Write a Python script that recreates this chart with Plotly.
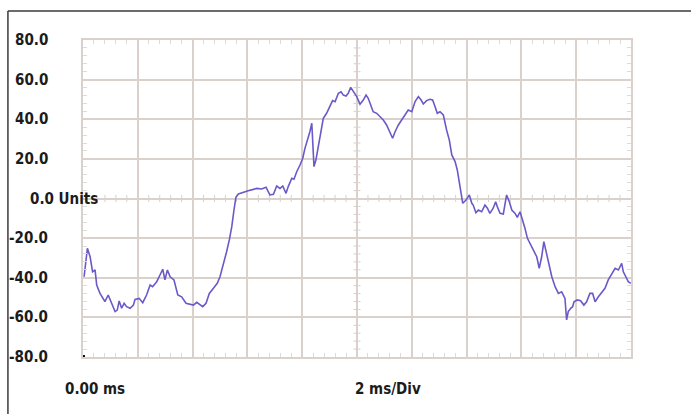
import plotly.graph_objects as go

# Sampled waveform: time in ms, amplitude in units
time_ms = [
    0.04, 0.16, 0.26, 0.35, 0.44, 0.50, 0.62, 0.80, 0.92, 1.05, 1.17, 1.25, 1.32, 1.41,
    1.50, 1.59, 1.72, 1.84, 1.90, 2.05, 2.18, 2.32, 2.45, 2.54, 2.69, 2.81, 2.91, 2.99,
    3.08, 3.18, 3.32, 3.46, 3.60, 3.76, 3.91, 4.03, 4.15, 4.27, 4.37, 4.49, 4.61, 4.76,
    4.90, 5.00, 5.12, 5.24, 5.34, 5.43, 5.51, 5.58, 5.67, 5.85, 6.03, 6.22, 6.34, 6.52,
    6.68, 6.82, 6.95, 7.07, 7.19, 7.29, 7.41, 7.49, 7.62, 7.70, 7.80, 7.92, 8.02, 8.10,
    8.22, 8.28, 8.35, 8.38, 8.43, 8.50, 8.59, 8.69, 8.77, 8.89, 9.01, 9.11, 9.20, 9.32,
    9.42, 9.50, 9.60, 9.68, 9.77, 9.86, 9.99, 10.11, 10.23, 10.33, 10.41, 10.50, 10.59,
    10.72, 10.84, 10.96, 11.08, 11.20, 11.30, 11.39, 11.51, 11.63, 11.75, 11.87, 12.00,
    12.12, 12.24, 12.34, 12.42, 12.54, 12.66, 12.76, 12.85, 12.93, 13.03, 13.15, 13.27,
    13.37, 13.46, 13.58, 13.66, 13.76, 13.86, 13.98, 14.10, 14.19, 14.24, 14.34, 14.43,
    14.55, 14.67, 14.76, 14.85, 14.97, 15.06, 15.12, 15.22, 15.34, 15.46, 15.56, 15.65,
    15.77, 15.85, 15.95, 16.05, 16.13, 16.22, 16.31, 16.43, 16.56, 16.65, 16.74, 16.82,
    16.92, 17.02, 17.11, 17.23, 17.35, 17.47, 17.59, 17.65, 17.71, 17.80, 17.87, 17.92,
    18.04, 18.16, 18.28, 18.38, 18.50, 18.60, 18.69, 18.81, 18.93, 19.05, 19.17, 19.29,
    19.42, 19.54, 19.66, 19.72, 19.82, 19.90, 19.99,
]
amplitude = [
    -39.5, -25.1, -29.4, -37.0, -36.0, -43.7, -47.9, -52.0, -48.7, -52.9, -57.1, -56.3,
    -51.7, -55.4, -52.9, -54.6, -55.4, -53.8, -50.9, -50.4, -52.6, -48.7, -43.7, -44.5,
    -42.0, -38.6, -35.7, -41.1, -36.1, -39.5, -41.1, -48.7, -49.6, -52.9, -53.3, -53.8,
    -52.4, -53.4, -54.6, -52.9, -47.9, -45.3, -42.8, -39.5, -33.6, -26.9, -20.9, -14.2,
    -5.8, 0.6, 2.3, 3.3, 3.9, 4.6, 5.1, 4.8, 5.7, 1.8, 2.1, 6.3, 5.1, 6.3, 2.6, 6.0,
    10.2, 9.7, 13.5, 16.9, 20.3, 25.3, 30.4, 33.7, 38.0, 30.4, 16.1, 19.4, 27.0, 34.6,
    40.5, 43.0, 46.7, 49.4, 48.9, 53.1, 53.9, 52.2, 51.7, 53.1, 56.1, 53.9, 51.4, 47.6,
    49.7, 52.2, 50.6, 47.2, 43.8, 43.0, 41.3, 39.6, 37.1, 33.7, 30.4, 33.7, 37.1, 39.6,
    42.2, 44.7, 43.8, 48.9, 51.4, 49.7, 47.7, 49.4, 50.1, 49.7, 46.3, 43.0, 43.8, 42.2,
    34.6, 29.5, 22.0, 18.6, 14.4, 6.0, -2.4, -0.8, 1.8, -2.4, -3.3, -7.2, -5.8, -6.7,
    -3.3, -4.9, -7.5, -4.9, -1.6, -4.1, -7.5, -7.8, 1.8, -1.6, -5.8, -7.5, -9.5, -6.7,
    -10.9, -15.0, -20.1, -22.6, -25.1, -29.4, -35.2, -29.4, -21.8, -27.7, -34.4, -39.5,
    -44.5, -47.9, -47.1, -50.4, -61.3, -57.1, -55.4, -54.6, -52.1, -51.2, -51.6, -53.8,
    -52.1, -47.9, -47.9, -52.1, -49.6, -47.6, -45.3, -41.1, -38.1, -35.2, -36.1, -32.7,
    -37.0, -39.5, -42.0, -42.8,
]

y_tick_values = [80, 60, 40, 20, 0, -20, -40, -60, -80]
y_tick_labels = ["80.0", "60.0", "40.0", "20.0", "0.0 Units", "-20.0", "-40.0", "-60.0", "-80.0"]
x_start_label = "0.00 ms"
x_scale_label = "2 ms/Div"

X_RANGE = [0, 20]
Y_RANGE = [-80, 80]
GRID = "#dad0cc"
TICK = "#e2dad7"
TRACE = "#6a5ac8"
LABEL_FONT = dict(family="DejaVu Sans Condensed, Liberation Sans Narrow, Roboto Condensed, Arial Narrow, sans-serif",
                  size=15, color="#1b1b1b")

fig = go.Figure()
fig.add_trace(go.Scatter(
    x=time_ms, y=amplitude, mode="lines",
    line=dict(color=TRACE, width=1.6), hoverinfo="skip", showlegend=False,
))
# trigger marker at the origin corner
fig.add_trace(go.Scatter(
    x=[X_RANGE[0]], y=[Y_RANGE[0]], mode="markers", cliponaxis=False,
    marker=dict(symbol="square", size=4, color="#111111"), showlegend=False, hoverinfo="skip",
))

axis_common = dict(
    showgrid=True, gridcolor=GRID, gridwidth=1.5, zeroline=False,
    showline=True, linecolor=GRID, linewidth=1.5, mirror="ticks",
    ticks="inside", ticklen=0, showticklabels=False, fixedrange=True,
)
fig.update_xaxes(range=X_RANGE, dtick=2, tick0=0,
                 minor=dict(dtick=0.4, ticks="inside", ticklen=4, tickcolor=TICK, showgrid=False),
                 **axis_common)
fig.update_yaxes(range=Y_RANGE, dtick=20, tick0=0,
                 minor=dict(dtick=4, ticks="inside", ticklen=4, tickcolor=TICK, showgrid=False),
                 **axis_common)

# centre crosshair with small graduation ticks
x_mid = (X_RANGE[0] + X_RANGE[1]) / 2
y_mid = (Y_RANGE[0] + Y_RANGE[1]) / 2
shapes = []
n_x_minor = int((X_RANGE[1] - X_RANGE[0]) / 0.4)
for i in range(1, n_x_minor):
    xv = X_RANGE[0] + i * 0.4
    shapes.append(dict(type="line", xref="x", yref="y", x0=xv, x1=xv,
                       y0=y_mid - 1.8, y1=y_mid + 1.8, line=dict(color=GRID, width=1), layer="below"))
n_y_minor = int((Y_RANGE[1] - Y_RANGE[0]) / 4)
for i in range(1, n_y_minor):
    yv = Y_RANGE[0] + i * 4
    shapes.append(dict(type="line", xref="x", yref="y", x0=x_mid - 0.13, x1=x_mid + 0.13,
                       y0=yv, y1=yv, line=dict(color=GRID, width=1), layer="below"))

# frame around the figure: top and left edges
shapes.append(dict(type="line", xref="paper", yref="paper", x0=-0.137, x1=1.12,
                   y0=1.0915, y1=1.0915, line=dict(color="#3a3a3a", width=1.5)))
shapes.append(dict(type="line", xref="paper", yref="paper", x0=-0.137, x1=-0.137,
                   y0=1.0915, y1=-0.2, line=dict(color="#3a3a3a", width=1.5)))

annotations = []
for val, txt in zip(y_tick_values, y_tick_labels):
    if "Units" in txt:
        annotations.append(dict(x=-0.1, xref="paper", y=val, yref="y", text="<b>%s</b>" % txt,
                                xanchor="left", yanchor="middle", showarrow=False, font=LABEL_FONT))
    else:
        annotations.append(dict(x=-0.0602, xref="paper", y=val, yref="y", text="<b>%s</b>" % txt,
                                xanchor="right", yanchor="middle", showarrow=False, font=LABEL_FONT))
annotations.append(dict(x=-0.036, xref="paper", y=-0.101, yref="paper", text="<b>%s</b>" % x_start_label,
                        xanchor="left", yanchor="middle", showarrow=False, font=LABEL_FONT))
annotations.append(dict(x=0.493, xref="paper", y=-0.101, yref="paper", text="<b>%s</b>" % x_scale_label,
                        xanchor="left", yanchor="middle", showarrow=False, font=LABEL_FONT))

fig.update_layout(
    width=691, height=414,
    margin=dict(l=83, r=60, t=40, b=57),
    paper_bgcolor="white", plot_bgcolor="white",
    shapes=shapes, annotations=annotations, showlegend=False,
)

fig.write_html("out.html", config={"displayModeBar": False})
